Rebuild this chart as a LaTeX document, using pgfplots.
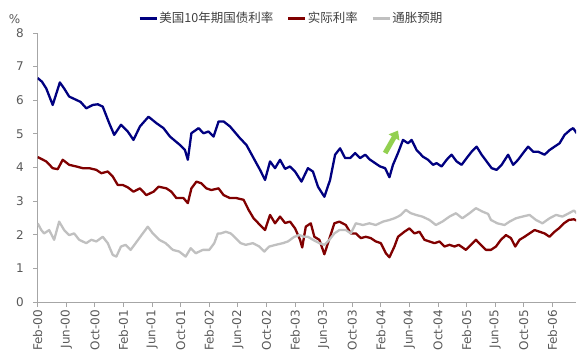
\documentclass[border=0pt]{standalone}
\usepackage{pgfplots}
\pgfplotsset{compat=1.18}
\usetikzlibrary{arrows.meta}
\usepackage{fontspec}
\setmainfont{DejaVu Sans}
\newfontfamily\cjk{Noto Sans CJK SC}
\definecolor{navy}{HTML}{000080}
\definecolor{dred}{HTML}{800000}
\definecolor{lgray}{HTML}{C0C0C0}
\definecolor{agreen}{HTML}{92D050}
\definecolor{txt}{HTML}{595959}
\definecolor{legtxt}{HTML}{404040}
\definecolor{axgray}{HTML}{A6A6A6}
\begin{document}
\begin{tikzpicture}
\begin{axis}[name=ax, scale only axis, width=538.3bp, height=269bp,
  xmin=0, xmax=75.3, ymin=0, ymax=8,
  axis x line*=bottom, axis y line*=left,
  axis line style={axgray, line width=0.8bp, -},
  xtick={0,4,...,72},
  xticklabels={Feb-00,Jun-00,Oct-00,Feb-01,Jun-01,Oct-01,Feb-02,Jun-02,Oct-02,Feb-03,Jun-03,Oct-03,Feb-04,Jun-04,Oct-04,Feb-05,Jun-05,Oct-05,Feb-06},
  ytick={0,1,...,8},
  tick style={axgray, line width=0.8bp},
  tick align=outside, major tick length=4.5bp,
  /pgf/number format/assume math mode=true,
  x tick label style={rotate=90, anchor=east, font=\fontsize{12bp}{14bp}\selectfont, text=txt},
  y tick label style={font=\fontsize{12bp}{14bp}\selectfont, text=txt, xshift=-6bp},
  legend style={at={(0.181,1.055)}, anchor=west, draw=none, fill=none,
    font=\cjk\fontsize{12.5bp}{14bp}\selectfont, text=legtxt,
    legend columns=3, nodes={inner sep=1.5bp},
    /tikz/every even column/.append style={column sep=12bp}},
  legend cell align=left,
  legend image code/.code={\draw[#1, line width=2.6bp] (0bp,0bp) -- (17bp,0bp);},
  clip mode=individual,
  every axis plot/.append style={line width=2.3bp, line join=round},
]
\addplot[navy] coordinates {
(0.0,6.66) (0.6,6.55) (1.2,6.35) (2.1,5.86) (3.1,6.53) (3.7,6.35) (4.4,6.11) (5.4,6.01) (6.0,5.95) (6.8,5.76) (7.7,5.86) (8.4,5.88) (9.1,5.81) (10.0,5.32) (10.7,4.97)
(11.65,5.27) (12.6,5.07) (13.4,4.82) (14.3,5.22) (15.5,5.51) (16.6,5.32) (17.6,5.17) (18.5,4.92) (19.9,4.67) (20.6,4.52) (21.0,4.23) (21.5,5.02)
(22.5,5.17) (23.2,5.02) (23.9,5.07) (24.6,4.92) (25.3,5.37) (26.0,5.37) (26.9,5.22) (28.3,4.87) (29.2,4.67) (30.2,4.28) (31.1,3.93) (31.8,3.63)
(32.5,4.18) (33.2,3.98) (33.9,4.23) (34.6,3.96) (35.3,4.03) (36.0,3.88) (36.9,3.58) (37.8,3.98) (38.5,3.88) (39.2,3.43) (40.1,3.13) (40.9,3.63)
(41.6,4.38) (42.3,4.57) (43.0,4.28) (43.7,4.28) (44.4,4.43) (45.1,4.28) (45.8,4.38) (46.5,4.23) (47.2,4.13) (47.9,4.03) (48.6,3.98) (49.2,3.71)
(49.7,4.08) (50.4,4.43) (51.1,4.82) (51.8,4.72) (52.3,4.82) (53.0,4.52) (53.9,4.32) (54.6,4.23) (55.3,4.08) (55.8,4.13) (56.5,4.03) (57.2,4.23)
(57.9,4.38) (58.6,4.18) (59.3,4.08) (60.0,4.28) (60.7,4.47) (61.4,4.62) (62.1,4.38) (62.8,4.18) (63.5,3.98) (64.2,3.93) (64.9,4.08) (65.8,4.38)
(66.5,4.08) (67.2,4.23) (67.9,4.43) (68.6,4.62) (69.3,4.47) (70.0,4.47) (70.9,4.38) (71.6,4.52) (72.3,4.62) (73.0,4.72) (73.7,4.97) (74.5,5.12)
(74.9,5.17) (75.4,5.02)
};
\addlegendentry{美国10年期国债利率}
\addplot[dred] coordinates {
(0.0,4.31) (1.2,4.18) (2.1,3.98) (2.8,3.95) (3.5,4.23) (4.4,4.08) (5.4,4.03) (6.3,3.98) (7.2,3.98) (8.2,3.93) (8.9,3.83) (9.8,3.88) (10.5,3.73)
(11.2,3.48) (11.9,3.48) (12.6,3.41) (13.4,3.28) (14.3,3.38) (15.2,3.18) (16.2,3.28) (16.9,3.43) (18.0,3.38) (18.7,3.28) (19.4,3.09) (20.4,3.09)
(21.0,2.94) (21.5,3.38) (22.2,3.58) (22.9,3.53) (23.6,3.38) (24.3,3.33) (25.3,3.38) (26.0,3.18) (26.9,3.09) (27.8,3.09) (28.8,3.04) (29.5,2.74)
(30.2,2.49) (31.1,2.29) (31.8,2.14) (32.5,2.59) (33.2,2.34) (33.9,2.54) (34.6,2.35) (35.3,2.39) (36.0,2.19) (36.7,1.85) (37.0,1.62) (37.5,2.24)
(38.2,2.34) (38.7,1.94) (39.4,1.85) (40.1,1.42) (40.6,1.75) (41.5,2.34) (42.2,2.39) (43.1,2.29) (43.8,2.04) (44.5,2.04) (45.2,1.90) (45.9,1.94)
(46.6,1.90) (47.3,1.80) (48.0,1.75) (48.7,1.45) (49.2,1.33) (49.9,1.65) (50.4,1.94) (51.3,2.09) (52.0,2.19) (52.7,2.04) (53.4,2.09) (54.1,1.85)
(54.8,1.80) (55.5,1.75) (56.2,1.80) (56.9,1.65) (57.6,1.70) (58.3,1.65) (58.9,1.70) (59.9,1.55) (60.6,1.70) (61.3,1.85) (62.0,1.70) (62.7,1.55)
(63.4,1.55) (64.1,1.65) (64.8,1.85) (65.5,1.99) (66.2,1.90) (66.8,1.65) (67.4,1.85) (68.1,1.94) (68.8,2.04) (69.5,2.14) (70.2,2.09) (70.9,2.04)
(71.6,1.94) (72.3,2.09) (72.9,2.19) (73.6,2.34) (74.3,2.44) (75.0,2.46) (75.4,2.42)
};
\addlegendentry{实际利率}
\addplot[lgray] coordinates {
(0.0,2.34) (0.5,2.14) (0.9,2.04) (1.6,2.14) (2.3,1.85) (3.0,2.39) (3.7,2.14) (4.4,1.99) (5.1,2.04) (5.8,1.85) (6.8,1.75) (7.5,1.85) (8.2,1.80)
(9.1,1.94) (9.8,1.75) (10.5,1.40) (11.0,1.35) (11.65,1.65) (12.3,1.70) (13.0,1.55) (13.7,1.75) (14.7,2.04) (15.4,2.24) (16.1,2.04) (17.0,1.85)
(17.9,1.75) (18.9,1.55) (19.8,1.50) (20.7,1.35) (21.4,1.60) (22.1,1.45) (23.1,1.55) (24.0,1.55) (24.7,1.75) (25.2,2.04) (25.6,2.04) (26.3,2.09)
(27.0,2.04) (27.7,1.90) (28.4,1.75) (29.1,1.70) (30.1,1.75) (31.0,1.65) (31.7,1.50) (32.4,1.65) (33.3,1.70) (34.3,1.75) (35.0,1.80) (35.9,1.94)
(36.6,1.99) (37.3,1.94) (37.8,1.94) (38.5,1.85) (39.4,1.75) (40.1,1.70) (40.8,1.85) (41.5,2.04) (42.2,2.14) (43.1,2.14) (43.8,2.04) (44.5,2.34)
(45.5,2.29) (46.4,2.34) (47.3,2.29) (48.3,2.39) (49.2,2.44) (49.9,2.49) (50.4,2.54) (50.8,2.59) (51.5,2.74) (52.2,2.64) (52.9,2.59) (53.8,2.54)
(54.8,2.44) (55.7,2.29) (56.6,2.39) (57.6,2.54) (58.5,2.64) (59.4,2.49) (60.4,2.64) (61.3,2.79) (62.2,2.69) (63.0,2.62) (63.4,2.44) (64.3,2.34)
(65.3,2.29) (66.0,2.39) (66.9,2.49) (67.8,2.54) (68.8,2.59) (69.7,2.44) (70.6,2.34) (71.6,2.49) (72.5,2.59) (73.4,2.54) (74.3,2.64) (75.0,2.72)
(75.4,2.64)
};
\addlegendentry{通胀预期}
\draw[agreen, line width=5bp, -{Triangle[width=12bp,length=8bp]}] (axis cs:48.6,4.43) -- (axis cs:50.4,5.10);
\end{axis}
\node[text=txt, font=\fontsize{12bp}{14bp}\selectfont] at ([xshift=-23bp,yshift=14bp]ax.north west) {\%};
\pgfresetboundingbox
\path (ax.south west) ++(-37.7bp,-59bp) rectangle ++(584bp,361bp);
\end{tikzpicture}
\end{document}
